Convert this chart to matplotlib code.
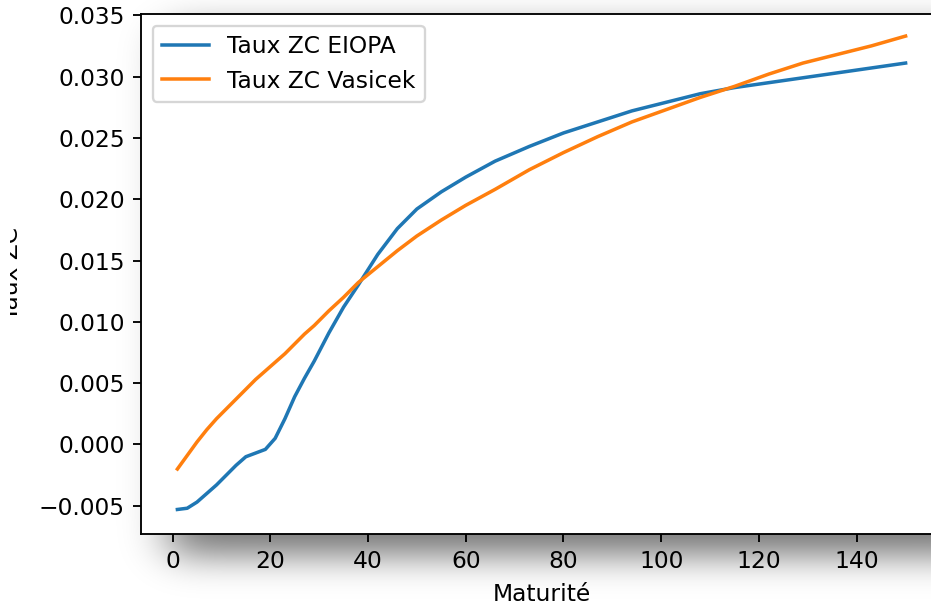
import math
import numpy as np
import matplotlib
matplotlib.use("Agg")
import matplotlib.pyplot as plt
from matplotlib.transforms import Bbox, TransformedBbox

# maturities (years) and zero-coupon rates
maturites = [1, 3, 5, 7, 9, 11, 13, 15, 17, 19, 21, 23, 25, 27, 29, 32, 35, 38, 42,
             46, 50, 55, 60, 66, 73, 80, 87, 94, 101, 108, 115, 122, 129, 136, 143, 150]
taux_eiopa = [-0.0053, -0.0052, -0.0047, -0.0040, -0.0033, -0.0025, -0.0017, -0.0010,
              -0.0007, -0.0004, 0.0005, 0.0021, 0.0039, 0.0054, 0.0068, 0.0091, 0.0112,
              0.0130, 0.0155, 0.0176, 0.0192, 0.0206, 0.0218, 0.0231, 0.0243, 0.0254,
              0.0263, 0.0272, 0.0279, 0.0286, 0.0291, 0.0295, 0.0299, 0.0303, 0.0307,
              0.0311]
taux_vasicek = [-0.0020, -0.0009, 0.0002, 0.0012, 0.0021, 0.0029, 0.0037, 0.0045,
                0.0053, 0.0060, 0.0067, 0.0074, 0.0082, 0.0090, 0.0097, 0.0109, 0.0120,
                0.0132, 0.0145, 0.0158, 0.0170, 0.0183, 0.0195, 0.0208, 0.0224, 0.0238,
                0.0251, 0.0263, 0.0273, 0.0283, 0.0292, 0.0302, 0.0311, 0.0318, 0.0325,
                0.0333]

W, H, DPI = 931, 607, 168
fig = plt.figure(figsize=(W / DPI, H / DPI), dpi=DPI)

# soft drop shadow of the screenshot, mostly under the axes
erf = np.vectorize(math.erf)
xs = np.arange(W) + 0.5
ys = np.arange(H) + 0.5
sx = 22 * math.sqrt(2)
sy = 18 * math.sqrt(2)
gx = 0.5 * (erf((xs - 170) / sx) - erf((xs - 1000) / sx))
gy = 0.5 * (erf((ys - 30) / sy) - erf((ys - 555) / sy))
alpha = 0.55 * np.outer(gy, gx)
shadow = np.zeros((H, W, 4))
shadow[..., 3] = alpha
bg = fig.add_axes([0, 0, 1, 1], zorder=-1)
bg.imshow(shadow, extent=(0, W, H, 0), aspect="auto", interpolation="bilinear")
bg.axis("off")

ax = fig.add_axes([141 / W, (H - 534) / H, 801 / W, 520 / H], zorder=1)
ax.plot(maturites, taux_eiopa, label="Taux ZC EIOPA")
ax.plot(maturites, taux_vasicek, label="Taux ZC Vasicek")
ax.set_xlim(-6.45, 157.45)
ax.set_ylim(-0.0073, 0.0351)
ax.set_xlabel("Maturité")
ax.set_ylabel("Taux ZC")
ax.yaxis.set_label_coords(-0.147, 0.5)
ax.legend(loc="upper left")

# the screenshot cuts the y label on the left
clip = TransformedBbox(Bbox([[10 / W, 0], [1, 1]]), fig.transFigure)
ax.yaxis.label.set_clip_box(clip)
ax.yaxis.label.set_clip_on(True)

fig.savefig("out.png", dpi=DPI)
